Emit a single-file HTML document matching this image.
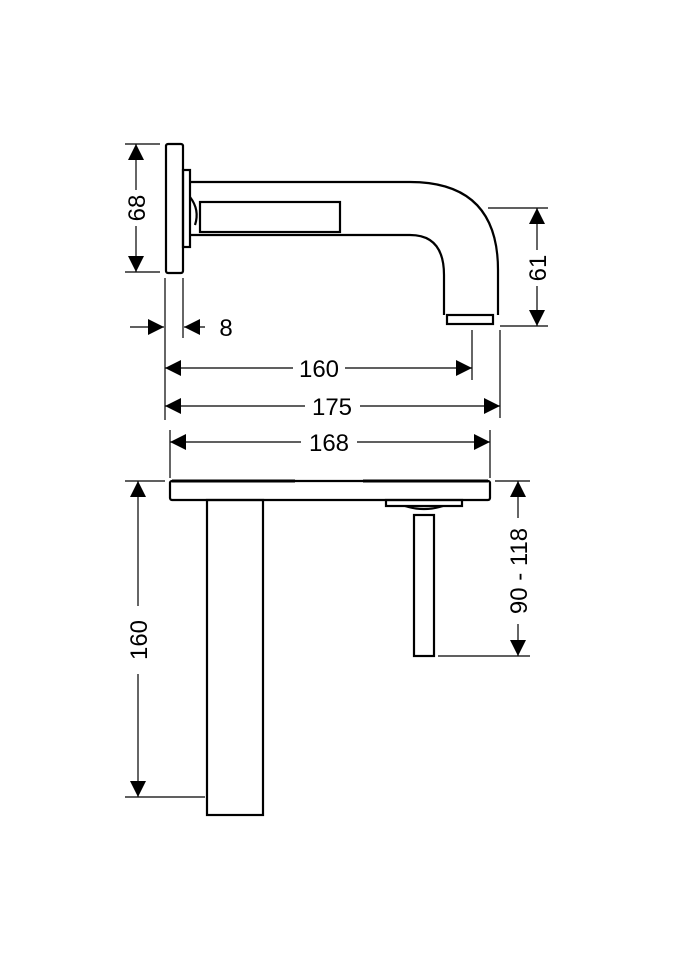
<!DOCTYPE html>
<html><head><style>body{margin:0;background:#fff}svg{display:block}</style></head><body>
<svg width="675" height="960" viewBox="0 0 675 960" xmlns="http://www.w3.org/2000/svg" font-family="Liberation Sans, sans-serif" font-size="24">
<defs>
<marker id="a" viewBox="0 0 10 10" refX="10" refY="5" markerWidth="22" markerHeight="16" markerUnits="userSpaceOnUse" orient="auto-start-reverse"><path d="M0,0L10,5L0,10Z" fill="#000"/></marker>
</defs>
<g fill="none" stroke="#000" stroke-width="2.2">
<rect x="166" y="144" width="17" height="129" rx="2"/>
<rect x="183" y="170" width="7" height="77"/>
<path d="M190,182 H410 Q498,182 498,270 V315"/>
<path d="M190,235 H410 Q444,235 444,275 V315"/>
<rect x="200" y="202" width="140" height="30"/>
<path d="M190,197 Q200,210 195,225"/>
<rect x="447" y="315" width="46" height="9"/>
</g>
<g stroke="#000" stroke-width="1.2" fill="none">
<path d="M125,144H160M125,272H160"/>
<line x1="136" y1="144" x2="136" y2="190" marker-start="url(#a)"/>
<line x1="136" y1="226" x2="136" y2="272" marker-end="url(#a)"/>
<path d="M488,208H548M500,326H548"/>
<line x1="537" y1="208" x2="537" y2="250" marker-start="url(#a)"/>
<line x1="537" y1="286" x2="537" y2="326" marker-end="url(#a)"/>
<path d="M165,278V420M183,278V338M472,330V380M500,330V418"/>
<line x1="130" y1="327" x2="164" y2="327" marker-end="url(#a)"/>
<line x1="205" y1="327" x2="184" y2="327" marker-end="url(#a)"/>
<line x1="165" y1="368" x2="293" y2="368" marker-start="url(#a)"/>
<line x1="345" y1="368" x2="472" y2="368" marker-end="url(#a)"/>
<line x1="165" y1="406" x2="305" y2="406" marker-start="url(#a)"/>
<line x1="360" y1="406" x2="500" y2="406" marker-end="url(#a)"/>
<path d="M170,430V478M490,430V478"/>
<line x1="170" y1="442" x2="301" y2="442" marker-start="url(#a)"/>
<line x1="357" y1="442" x2="490" y2="442" marker-end="url(#a)"/>
<path d="M125,481H165M125,797H205"/>
<line x1="138" y1="481" x2="138" y2="606" marker-start="url(#a)"/>
<line x1="138" y1="674" x2="138" y2="797" marker-end="url(#a)"/>
<path d="M495,481H530M438,656H530"/>
<line x1="518" y1="481" x2="518" y2="518" marker-start="url(#a)"/>
<line x1="518" y1="624" x2="518" y2="656" marker-end="url(#a)"/>
</g>
<g fill="none" stroke="#000" stroke-width="2.2">
<rect x="170" y="481" width="320" height="19" rx="2"/>
<path d="M172,481H295M363,481H488" stroke-width="3"/>
<rect x="207" y="500" width="56" height="315"/>
<rect x="386" y="500" width="76" height="6"/>
<path d="M405,506 Q424,512 443,506"/>
<rect x="414" y="515" width="20" height="141"/>
</g>
<g fill="#000" text-anchor="middle">
<text transform="translate(145,208) rotate(-90)">68</text>
<text transform="translate(546,268) rotate(-90)">61</text>
<text x="226" y="336">8</text>
<text x="319" y="377">160</text>
<text x="332" y="415">175</text>
<text x="329" y="451">168</text>
<text transform="translate(147,640) rotate(-90)">160</text>
<text transform="translate(527,571) rotate(-90)">90 - 118</text>
</g>
</svg>
</body></html>
